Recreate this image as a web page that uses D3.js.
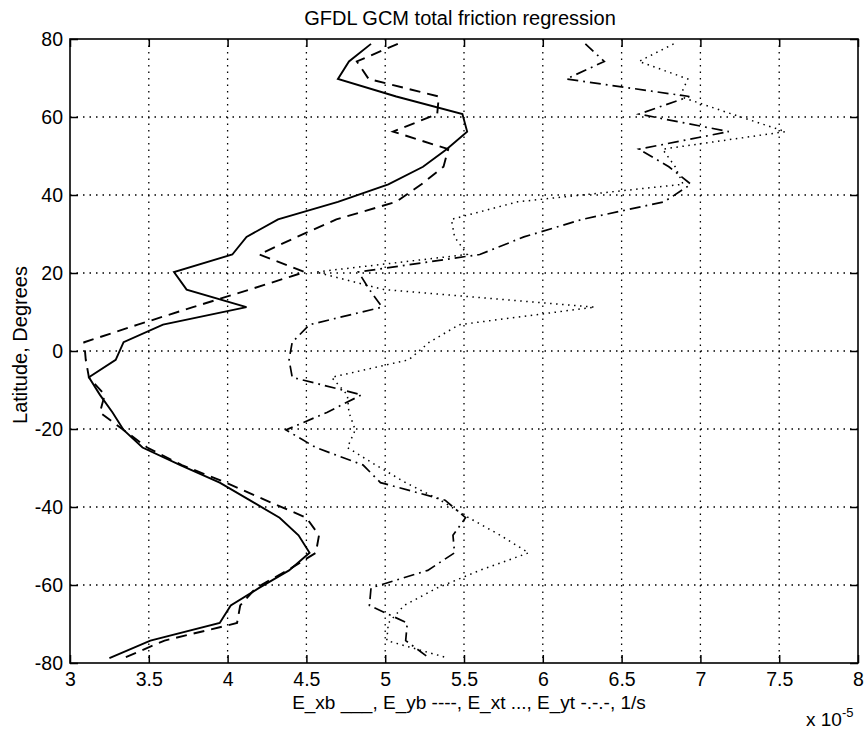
<!DOCTYPE html>
<html>
<head>
<meta charset="utf-8">
<script src="https://cdn.jsdelivr.net/npm/d3@7/dist/d3.min.js"></script>
<style>
  html, body { margin: 0; padding: 0; background: #fff; }
  svg { display: block; }
  text { font-family: "Liberation Sans", Arial, Helvetica, sans-serif; fill: #000; }
</style>
</head>
<body>
<svg id="chart" width="865" height="730"></svg>
<script>
// Latitudes (degrees), north to south
const latitudes = [78.75, 74.25, 69.75, 65.25, 60.75, 56.25, 51.75, 47.25, 42.75, 38.25,
  33.75, 29.25, 24.75, 20.25, 15.75, 11.25, 6.75, 2.25, -2.25, -6.75, -11.25, -15.75,
  -20.25, -24.75, -29.25, -33.75, -38.25, -42.75, -47.25, -51.75, -56.25, -60.75,
  -65.25, -69.75, -74.25, -78.75];

// Values in units of 1e-5 1/s
const E_xb = [4.91, 4.77, 4.70, 5.07, 5.49, 5.52, 5.39, 5.24, 5.02, 4.70,
  4.32, 4.12, 4.03, 3.66, 3.74, 4.12, 3.59, 3.34, 3.29, 3.12, 3.19, 3.27,
  3.34, 3.46, 3.70, 3.95, 4.14, 4.33, 4.45, 4.52, 4.39, 4.20,
  4.02, 3.95, 3.51, 3.25];
const E_yb = [5.08, 4.82, 4.895, 5.34, 5.33, 5.05, 5.40, 5.37, 5.23, 5.07,
  4.69, 4.44, 4.20, 4.49, 4.14, 3.78, 3.43, 3.09, 3.10, 3.12, 3.22, 3.19,
  3.34, 3.49, 3.71, 3.99, 4.24, 4.50, 4.58, 4.56, 4.38, 4.18,
  4.08, 4.06, 3.60, 3.34];
const E_xt = [6.83, 6.61, 6.92, 6.87, 7.20, 7.54, 6.76, 6.84, 6.89, 5.84,
  5.42, 5.44, 5.52, 4.56, 4.99, 6.33, 5.47, 5.28, 5.15, 4.66, 4.76, 4.77,
  4.81, 4.76, 4.94, 5.13, 5.35, 5.53, 5.73, 5.91, 5.60, 5.33,
  5.12, 5.02, 5.01, 5.40];
const E_yt = [6.27, 6.39, 6.15, 6.93, 6.61, 7.18, 6.61, 6.80, 6.94, 6.77,
  6.25, 5.88, 5.60, 4.83, 4.90, 4.98, 4.52, 4.41, 4.39, 4.41, 4.85, 4.63,
  4.37, 4.56, 4.86, 4.97, 5.38, 5.51, 5.43, 5.44, 5.27, 4.91,
  4.90, 5.14, 5.13, 5.28];

const xTicks = [3, 3.5, 4, 4.5, 5, 5.5, 6, 6.5, 7, 7.5, 8];
const yTicks = [-80, -60, -40, -20, 0, 20, 40, 60, 80];

const titleText = "GFDL GCM total friction regression";
const xLabelText = "E_xb ___, E_yb ----, E_xt ..., E_yt -.-.-, 1/s";
const yLabelText = "Latitude, Degrees";

const svg = d3.select("#chart");
const L = 70, R = 858, T = 39, B = 663;

const x = d3.scaleLinear().domain([3, 8]).range([L, R]);
const y = d3.scaleLinear().domain([-80, 80]).range([B, T]);

// grid
const grid = svg.append("g");
grid.selectAll("line.gx").data(xTicks.slice(1, -1)).join("line")
  .attr("x1", d => x(d)).attr("x2", d => x(d)).attr("y1", T).attr("y2", B)
  .attr("stroke", "#000").attr("stroke-width", 1.3).attr("stroke-dasharray", "1.5,5");
grid.selectAll("line.gy").data(yTicks.slice(1, -1)).join("line")
  .attr("y1", d => y(d)).attr("y2", d => y(d)).attr("x1", L).attr("x2", R)
  .attr("stroke", "#000").attr("stroke-width", 1.3).attr("stroke-dasharray", "1.5,5");

// axes with inward ticks
const tickLen = 8;
const axB = svg.append("g").attr("transform", `translate(0,${B})`)
  .call(d3.axisBottom(x).tickValues(xTicks).tickSizeInner(-tickLen).tickSizeOuter(0).tickPadding(9).tickFormat(d => String(d)));
const axT = svg.append("g").attr("transform", `translate(0,${T})`)
  .call(d3.axisTop(x).tickValues(xTicks).tickSizeInner(-tickLen).tickSizeOuter(0).tickFormat(""));
const axL = svg.append("g").attr("transform", `translate(${L},0)`)
  .call(d3.axisLeft(y).tickValues(yTicks).tickSizeInner(-tickLen).tickSizeOuter(0).tickPadding(7).tickFormat(d => String(d)));
const axR = svg.append("g").attr("transform", `translate(${R},0)`)
  .call(d3.axisRight(y).tickValues(yTicks).tickSizeInner(-tickLen).tickSizeOuter(0).tickFormat(""));
[axB, axT, axL, axR].forEach(a => {
  a.select(".domain").remove();
  a.selectAll(".tick line").attr("stroke", "#000").attr("stroke-width", 1.5);
  a.selectAll("text").attr("font-size", "19.5px").attr("fill", "#000")
    .attr("font-family", '"Liberation Sans", Arial, Helvetica, sans-serif');
});
axB.selectAll("text").attr("dy", "0.71em");

// frame
svg.append("rect").attr("x", L).attr("y", T).attr("width", R - L).attr("height", B - T)
  .attr("fill", "none").attr("stroke", "#000").attr("stroke-width", 1.6);

// series
const series = [
  { name: "E_xb", values: E_xb, dash: null, width: 1.9 },
  { name: "E_yb", values: E_yb, dash: "11,7", width: 1.9 },
  { name: "E_xt", values: E_xt, dash: "1.5,4.5", width: 1.5 },
  { name: "E_yt", values: E_yt, dash: "11,5,1.8,5", width: 1.7 }
];
const line = d3.line().x(d => x(d[0])).y(d => y(d[1]));
series.forEach(s => {
  const pts = latitudes.map((lat, i) => [s.values[i], lat]);
  svg.append("path").datum(pts)
    .attr("d", line)
    .attr("fill", "none").attr("stroke", "#000")
    .attr("stroke-width", s.width)
    .attr("stroke-linejoin", "miter")
    .attr("stroke-dasharray", s.dash);
});

// texts
svg.append("text").attr("x", 460).attr("y", 25).attr("text-anchor", "middle")
  .attr("font-size", "20px").text(titleText);
svg.append("text").attr("x", 469).attr("y", 709).attr("text-anchor", "middle")
  .attr("font-size", "19px").text(xLabelText);
svg.append("text").attr("transform", "translate(27,345) rotate(-90)").attr("text-anchor", "middle")
  .attr("font-size", "20px").text(yLabelText);
const mult = svg.append("text").attr("x", 806).attr("y", 726).attr("font-size", "19px");
mult.append("tspan").text("x 10");
mult.append("tspan").attr("dy", -9).attr("font-size", "13px").text("-5");
</script>
</body>
</html>
